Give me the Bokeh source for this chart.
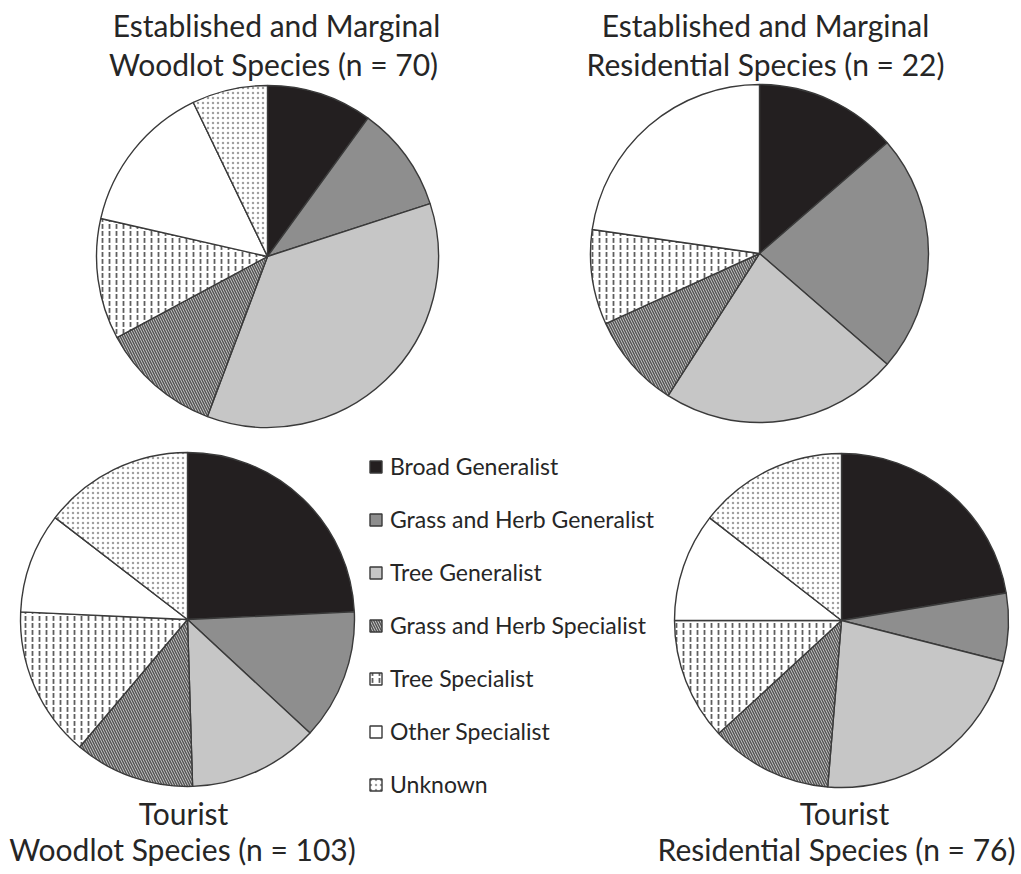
import numpy as np
from bokeh.plotting import figure
from bokeh.models import ColumnDataSource, Range1d, Legend, LegendItem
from bokeh.core.properties import value
from bokeh.embed import file_html
from bokeh.resources import INLINE

# ---------------- data ----------------
categories = ["Broad Generalist", "Grass and Herb Generalist", "Tree Generalist",
              "Grass and Herb Specialist", "Tree Specialist", "Other Specialist", "Unknown"]
woodlot_established = [7, 7, 25, 8, 8, 10, 5]        # n = 70
residential_established = [3, 5, 5, 2, 2, 5, 0]     # n = 22
woodlot_tourist = [25, 13, 13, 12, 15, 10, 15]      # n = 103
residential_tourist = [17, 5, 17, 9, 9, 8, 11]      # n = 76

# ---------------- styles ----------------
fill_colors = ["#231f20", "#8e8e8e", "#c6c6c6", "#cfcfcf", "#ffffff", "#ffffff", "#ffffff"]
hatch_patterns = [" ", " ", " ", "\\", ":", " ", "."]
hatch_colors = ["#000000", "#000000", "#000000", "#555555", "#5e5e5e", "#000000", "#a0a0a0"]
hatch_scales = [6, 6, 6, 5, 7, 6, 5]
hatch_weights = [1, 1, 1, 1.5, 1.8, 1, 1.2]

W, H = 1015, 872
FONT = "Lato"
TXT = "#262626"

p = figure(width=W, height=H, output_backend="svg", toolbar_location=None,
           x_range=Range1d(0, W), y_range=Range1d(0, H), min_border=0)
p.axis.visible = False
p.grid.visible = False
p.outline_line_color = None
p.background_fill_color = "white"
p.border_fill_color = "white"


def Y(img_y):
    # convert image-pixel y (top down) to data y
    return H - img_y


def pie(values, cx, cy, r):
    vals = np.array(values, dtype=float)
    frac = vals / vals.sum() * 2 * np.pi
    cum = np.concatenate([[0], np.cumsum(frac)])
    keep = vals > 0
    idx = np.arange(len(vals))[keep]
    src = ColumnDataSource(dict(
        start=(np.pi / 2 - cum[1:])[keep],
        end=(np.pi / 2 - cum[:-1])[keep],
        fill=[fill_colors[i] for i in idx],
        hp=[hatch_patterns[i] for i in idx],
        hc=[hatch_colors[i] for i in idx],
        hs=[hatch_scales[i] for i in idx],
        hw=[hatch_weights[i] for i in idx],
        cat=[categories[i] for i in idx],
    ))
    return p.wedge(x=cx, y=Y(cy), radius=r, start_angle="start", end_angle="end",
                   source=src, fill_color="fill", hatch_pattern="hp", hatch_color="hc",
                   hatch_scale="hs", hatch_weight="hw",
                   line_color="#3a3a3a", line_width=1.4)


r1 = pie(woodlot_established, 267, 256, 171)
r2 = pie(residential_established, 759, 253, 169)
r3 = pie(woodlot_tourist, 187, 619, 167)
r4 = pie(residential_tourist, 841, 620, 167)

# ---------------- titles ----------------
BASE_SHIFT = 13  # rendered baseline sits this far below the anchor
titles = [
    ("Established and Marginal", 276, 37),
    ("Woodlot Species (n = 70)", 273, 76),
    ("Established and Marginal", 765, 37),
    ("Residential Species (n = 22)", 765, 76),
    ("Tourist", 183, 825),
    ("Woodlot Species (n = 103)", 182, 861),
    ("Tourist", 844, 825),
    ("Residential Species (n = 76)", 836, 861),
]
p.text(x=[t[1] for t in titles], y=[Y(t[2] - BASE_SHIFT) for t in titles],
       text=[t[0] for t in titles],
       text_font=value(FONT), text_font_size="30px", text_color=TXT,
       text_align="center", text_baseline="alphabetic")

# ---------------- legend ----------------
items = [LegendItem(label=c, renderers=[r1], index=i) for i, c in enumerate(categories)]
legend = Legend(items=items, location=(368, 74), orientation="vertical",
                label_text_font=FONT, label_text_font_size="23px", label_text_color=TXT,
                glyph_width=15, glyph_height=15, label_height=22, label_standoff=7,
                spacing=25, padding=0, margin=0,
                border_line_color=None, background_fill_alpha=0)
p.add_layout(legend, "center")

open("out.html", "w").write(file_html(p, INLINE))
